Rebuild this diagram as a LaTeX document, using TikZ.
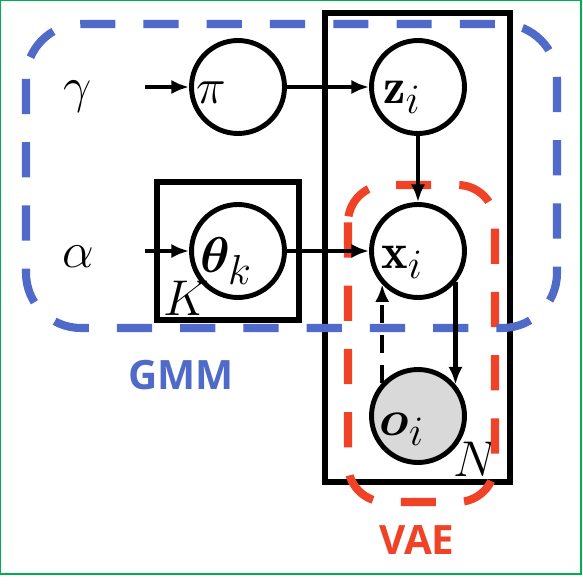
\RequirePackage{fix-cm}
\documentclass[tikz,border=0pt]{standalone}
\usepackage{amsmath,bm}
\usepackage{fontspec}
\newfontfamily\tagfont{Open Sans}
\usetikzlibrary{arrows.meta}
\definecolor{gmmblue}{RGB}{79,106,200}
\definecolor{vaered}{RGB}{240,66,38}
\definecolor{framegreen}{RGB}{0,176,80}
\definecolor{obsgray}{RGB}{217,217,217}
\newcommand{\vlabel}[1]{\scalebox{1.15}{$#1$}}

\begin{document}
\begin{tikzpicture}[x=0.02cm,y=-0.02cm,
    var/.style={draw,circle,line width=2.8pt,minimum size=1.86cm,inner sep=0pt},
    obs/.style={var,fill=obsgray},
    arr/.style={line width=2.6pt,-{Latex[length=10pt,width=8pt]}},
    plate/.style={draw,line width=3.3pt},
    group/.style={line width=4.6pt,dash pattern=on 20pt off 16pt},
    lbl/.style={font=\fontsize{24.88}{30}\selectfont,inner sep=0pt},
    tag/.style={font=\tagfont\bfseries\fontsize{23}{28}\selectfont}]
\useasboundingbox (0,0) rectangle (582,588);
\draw[framegreen,line width=0.8pt] (0.5,0.5) rectangle (581,574);

% plates
\draw[plate] (157,182) rectangle (299,320);
\draw[plate] (325,13) rectangle (510,482);
\node[lbl] (kplate) at (186,298) {\vlabel{K}};
\node[lbl] (nplate) at (476,459) {\vlabel{N}};

% model groups
\draw[group,vaered,rounded corners=0.75cm] (348,185) rectangle (495,502);
\draw[group,gmmblue,rounded corners=1.1cm] (26,24) rectangle (557,328);
\node[tag,text=gmmblue] (gmmtag) at (181,375) {GMM};
\node[tag,text=vaered] (vaetag) at (417,540) {VAE};

% hyperparameters
\node[lbl] (gamma) at (78,97) {\vlabel{\gamma}};
\node[lbl] (alpha) at (78,257) {\vlabel{\alpha}};
\coordinate (gin) at (145,87);
\coordinate (ain) at (145,251);

% variables
\node[var] (pi) at (238,87) {};
\node[var] (zi) at (418,87) {};
\node[var] (theta) at (238,251) {};
\node[var] (xi) at (418,251) {};
\node[obs] (oi) at (418,416) {};
\node[lbl] (pilbl) at (211,93) {\vlabel{\pi}};
\node[lbl] (zilbl) at (402,97) {\vlabel{\mathbf{z}_i}};
\node[lbl] (thetalbl) at (226,261) {\vlabel{\bm{\theta}_k}};
\node[lbl] (xilbl) at (402,262) {\vlabel{\mathbf{x}_i}};
\node[lbl] (oilbl) at (402,429) {\vlabel{\bm{o}_i}};

% edges
\draw[arr] (gin) -- (pi);
\draw[arr] (ain) -- (theta);
\draw[arr] (pi) -- (zi);
\draw[arr] (theta) -- (xi);
\draw[arr] (zi) -- (xi);
\draw[arr] (xi.-40) -- (oi.40);
\draw[arr,dash pattern=on 10pt off 7pt] (oi.137) -- (xi.223);
\end{tikzpicture}
\end{document}
